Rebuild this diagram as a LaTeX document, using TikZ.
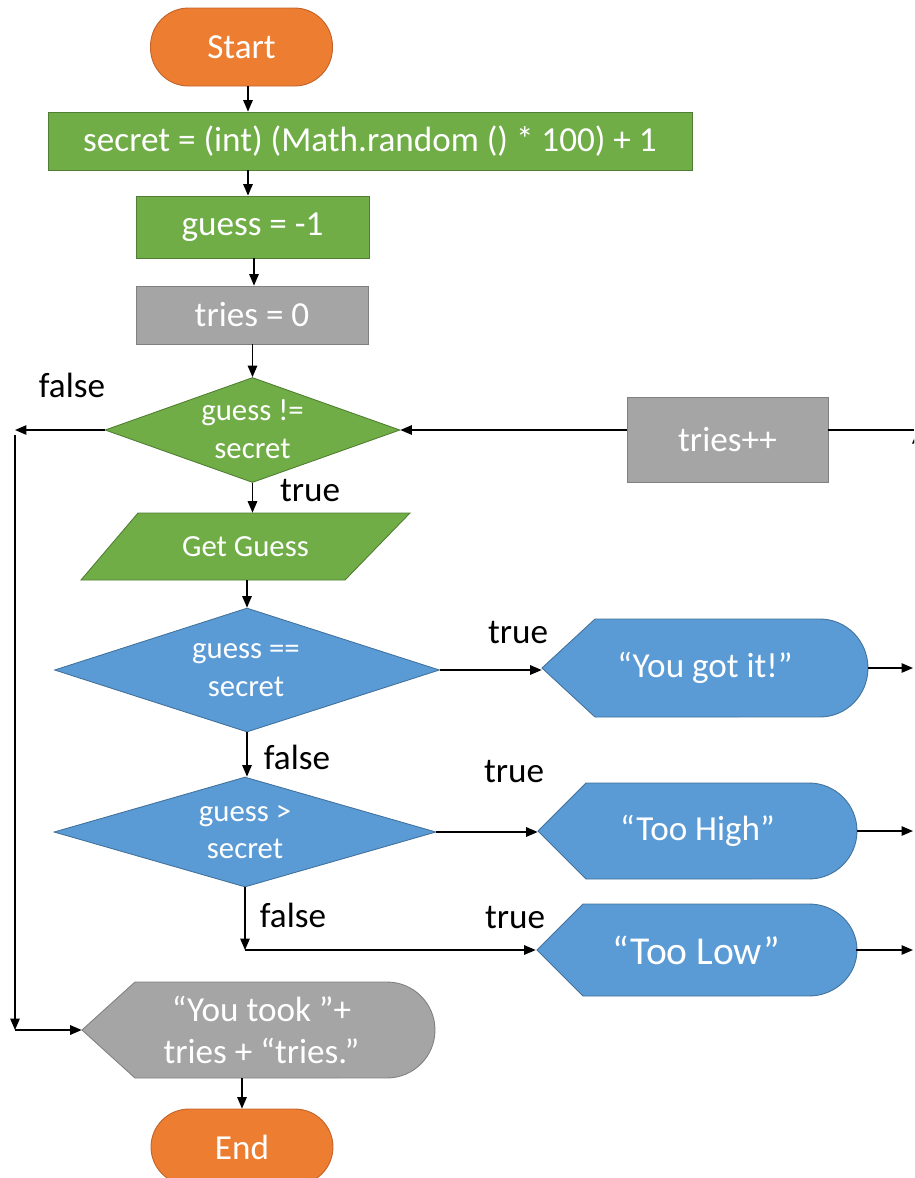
\documentclass[tikz,border=0pt]{standalone}
\usepackage{fontspec}
\setmainfont{Carlito}
\usetikzlibrary{shapes.geometric,arrows.meta}
\definecolor{orfill}{HTML}{ED7D31}
\definecolor{ordraw}{HTML}{C0622A}
\definecolor{grfill}{HTML}{70AD47}
\definecolor{grdraw}{HTML}{507E32}
\definecolor{gyfill}{HTML}{A5A5A5}
\definecolor{gydraw}{HTML}{808080}
\definecolor{blfill}{HTML}{5B9BD5}
\definecolor{bldraw}{HTML}{41719C}
\begin{document}
\begin{tikzpicture}[x=0.02cm,y=-0.02cm,
  font=\fontsize{20}{24}\selectfont,
  arr/.style={draw=black,line width=0.8pt,-{Triangle[length=0.23cm,width=0.19cm]}},
  ln/.style={draw=black,line width=0.8pt},
  txt/.style={text=white,align=center,inner sep=0pt},
  term/.style={txt,fill=orfill,draw=ordraw,line width=0.5pt,rounded corners=0.76cm,minimum width=3.64cm,minimum height=1.56cm},
  proc/.style={txt,fill=grfill,draw=grdraw,line width=0.5pt},
  gproc/.style={txt,fill=gyfill,draw=gydraw,line width=0.5pt},
  dec/.style={diamond,inner sep=0pt,line width=0.5pt},
  dectext/.style={txt,font=\fontsize{17.5}{21.5}\selectfont},
  grshape/.style={fill=grfill,draw=grdraw,line width=0.5pt},
  blshape/.style={fill=blfill,draw=bldraw,line width=0.5pt},
  gyshape/.style={fill=gyfill,draw=gydraw,line width=0.5pt},
  lbl/.style={text=black,inner sep=0pt},
  hold/.style={txt,draw=none}
]
\useasboundingbox (0,0) rectangle (914,1178);
\clip (0,0) rectangle (914,1178);

% column helpers
\coordinate (cA) at (248,0);
\coordinate (cB) at (254,0);
\coordinate (cE) at (913,0);

% nodes
\node[term] (start) at (241.5,47) {Start};
\node[proc,minimum width=12.88cm,minimum height=1.16cm] (secret) at (370,141) {secret = (int) (Math.random () * 100) + 1};
\node[proc,minimum width=4.66cm,minimum height=1.24cm] (guess) at (252.5,227) {guess = -1};
\node[gproc,minimum width=4.64cm,minimum height=1.16cm] (tries) at (252,315) {tries = 0};
\node[dec,fill=grfill,draw=grdraw,minimum width=5.9cm,minimum height=2.1cm] (d1) at (252.5,430) {};
\node[dectext] (d1t) at (252.5,429) {guess !=\\secret};
\node[gproc,minimum width=4.02cm,minimum height=1.7cm] (inc) at (727.5,439.5) {tries++};

% Get Guess parallelogram
\path[grshape] (138,513) -- (410,513) -- (345,580) -- (81,580) -- cycle;
\node[hold,minimum width=5.28cm,minimum height=1.34cm,font=\fontsize{17.5}{21}\selectfont] (gg) at (245.5,546.5) {Get Guess};

\node[dec,fill=blfill,draw=bldraw,minimum width=7.7cm,minimum height=2.48cm] (d2) at (247,670) {};
\node[dectext] (d2t) at (246,670) {guess ==\\secret};
\node[dec,fill=blfill,draw=bldraw,minimum width=7.64cm,minimum height=2.2cm] (d3) at (245,832) {};
\node[dectext] (d3t) at (245,832) {guess >\\secret};

% display shapes
\path[blshape] (542,668) -- (595,619) -- (820,619) arc[start angle=90,end angle=-90,x radius=0.96cm,y radius=0.98cm] -- (595,717) -- cycle;
\node[hold,minimum width=6.52cm,minimum height=1.96cm] (got) at (705,668) {“You got it!”};

\path[blshape] (538,831) -- (586,783) -- (809,783) arc[start angle=90,end angle=-90,x radius=0.96cm,y radius=0.96cm] -- (586,879) -- cycle;
\node[hold,minimum width=6.38cm,minimum height=1.92cm] (high) at (697.5,831) {“Too High”};

\path[blshape] (537,950) -- (583,904) -- (809,904) arc[start angle=90,end angle=-90,x radius=0.96cm,y radius=0.92cm] -- (583,996) -- cycle;
\node[hold,minimum width=6.4cm,minimum height=1.84cm,font=\fontsize{22.5}{26}\selectfont] (low) at (696,950) {“Too Low”};

\path[gyshape] (82,1030) -- (135,982) -- (387,982) arc[start angle=90,end angle=-90,x radius=0.96cm,y radius=0.96cm] -- (135,1078) -- cycle;
\node[hold,minimum width=7.06cm,minimum height=1.92cm] (took) at (258.5,1030) {\hspace*{0.12cm}“You took ”+\\\hspace*{0.12cm}tries + “tries.”};

\node[term,minimum height=1.52cm] (end) at (242,1147) {End};

% labels
\node[lbl] (lf1) at (72,385) {false};
\node[lbl] (lt1) at (310,491) {true};
\node[lbl] (lt2) at (518,633) {true};
\node[lbl] (lf2) at (297,757) {false};
\node[lbl] (lt3) at (514,772) {true};
\node[lbl] (lf3) at (293,915) {false};
\node[lbl] (lt4) at (515,918) {true};

% helper coordinates
\coordinate (c3) at (245,950);
\coordinate (cL) at (15,430);
\coordinate (cL2) at (15,435);
\coordinate (cL3) at (15,1030);
\coordinate (cR) at (914,430);
\coordinate (cR2) at (917,470);
\coordinate (cR3) at (917,432);

% connectors
\draw[arr] (start.south -| cA) -- (secret.north -| cA);
\draw[arr] (secret.south -| cA) -- (guess.north -| cA);
\draw[arr] (guess.south -| cB) -- (tries.north -| cB);
\draw[arr] (tries.south -| d1.north) -- (d1.north);
\draw[arr] (d1.south) -- (d1.south |- gg.north);
\draw[arr] (gg.south -| d2.north) -- (d2.north);
\draw[arr] (d2.south) -- (d2.south |- d3.north);
\draw[arr] (d2.east) -- (d2.east -| got.west);
\draw[arr] (d3.east) -- (d3.east -| high.west);
\draw[arr] (d3.south) -- (c3);
\draw[arr] (c3) -- (low.west);
\draw[arr] (d1.west) -- (cL);
\draw[arr] (cL2) -- (cL3);
\draw[arr] (cL3) -- (took.west);
\draw[arr] (took.south -| end.north) -- (end.north);
\draw[arr] (inc.west |- d1.east) -- (d1.east);
\draw[ln] (inc.east |- d1.east) -- (cR);
\draw[arr] (cR2) -- (cR3);
\draw[arr] (got.east) -- (got.east -| cE);
\draw[arr] (high.east) -- (high.east -| cE);
\draw[arr] (low.east) -- (low.east -| cE);
\end{tikzpicture}
\end{document}
